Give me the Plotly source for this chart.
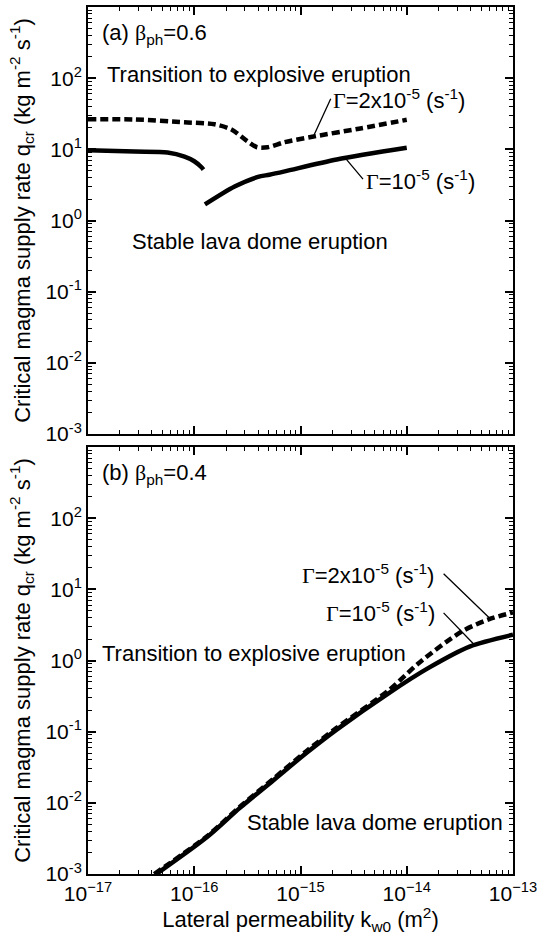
import plotly.graph_objects as go

# ---------------- data ----------------
# Panel (a) beta_ph = 0.6
ka_g2 = [1.0e-17, 2.75e-17, 8.1e-17, 1.55e-16, 2.24e-16, 3.16e-16, 3.9e-16, 4.9e-16,
         7.1e-16, 1.29e-15, 3.55e-15, 1.0e-14]
qa_g2 = [26.5, 26.3, 24.0, 22.5, 19.0, 13.0, 10.7, 10.7, 12.6, 15.0, 19.5, 26.0]

ka_g1_low = [1.0e-17, 2.75e-17, 5.6e-17, 8.1e-17, 1.0e-16, 1.17e-16, 1.22e-16]
qa_g1_low = [9.7, 9.3, 9.0, 7.9, 6.8, 5.6, 5.2]

ka_g1_high = [1.26e-16, 2.4e-16, 3.98e-16, 5.1e-16, 7.1e-16, 2.19e-15, 1.0e-14]
qa_g1_high = [1.68, 3.0, 4.1, 4.4, 4.9, 7.2, 10.5]

# Panel (b) beta_ph = 0.4
kb_g2 = [4.2e-17, 1.32e-16, 2.69e-16, 5.5e-16, 1.15e-15, 2.19e-15, 6.9e-15,
         1.32e-14, 3.3e-14, 5.9e-14, 1.0e-13]
qb_g2 = [1.0e-3, 3.4e-3, 8.8e-3, 0.0215, 0.054, 0.113, 0.39, 0.94, 2.56, 3.78, 4.74]

kb_g1 = [4.4e-17, 1.32e-16, 2.69e-16, 5.5e-16, 1.15e-15, 2.19e-15, 6.9e-15,
         1.62e-14, 3.9e-14, 1.0e-13]
qb_g1 = [1.0e-3, 3.3e-3, 8.5e-3, 0.0205, 0.051, 0.107, 0.355, 0.795, 1.57, 2.3]

# tick labels
x_tickvals = [1e-17, 1e-16, 1e-15, 1e-14, 1e-13]
x_ticktext = ["10<sup>−17</sup>", "10<sup>−16</sup>", "10<sup>−15</sup>",
              "10<sup>−14</sup>", "10<sup>−13</sup>"]
y_tickvals = [1e-3, 1e-2, 1e-1, 1e0, 1e1, 1e2]
y_ticktext = ["10<sup>-3</sup>", "10<sup>-2</sup>", "10<sup>-1</sup>",
              "10<sup>0</sup>", "10<sup>1</sup>", "10<sup>2</sup>"]

x_range_log = [-17, -13]
y_range_log = [-3, 3]

FONT = "Liberation Sans, Arial, sans-serif"
SERIF = "Liberation Serif, Times New Roman, serif"
LW = 4.5
DASH = "8px,4px"

fig = go.Figure()

def curve(x, y, xa, ya, dash=None):
    fig.add_trace(go.Scatter(x=x, y=y, mode="lines", xaxis=xa, yaxis=ya,
                             line=dict(color="black", width=LW, dash=dash,
                                       shape="spline", smoothing=0.8),
                             showlegend=False, hoverinfo="skip"))

# top panel (a)
curve(ka_g2, qa_g2, "x2", "y2", DASH)
curve(ka_g1_low, qa_g1_low, "x2", "y2")
curve(ka_g1_high, qa_g1_high, "x2", "y2")
# bottom panel (b)
curve(kb_g1, qb_g1, "x", "y")
curve(kb_g2, qb_g2, "x", "y", DASH)

ytitle = "Critical magma supply rate q<sub>cr</sub> (kg m<sup>-2</sup> s<sup>-1</sup>)"

common_axis = dict(
    type="log", showline=True, linewidth=2, linecolor="black", mirror="allticks",
    ticks="inside", ticklen=8, tickwidth=1.5, tickcolor="black",
    showgrid=False, zeroline=False, automargin=False,
    tickfont=dict(family=FONT, size=21, color="black"),
    minor=dict(ticks="inside", ticklen=4, tickwidth=1.2, tickcolor="black",
               showgrid=False, dtick="D1"),
)

xaxis_common = dict(common_axis, tickmode="array", tickvals=x_tickvals, ticktext=x_ticktext,
                    range=x_range_log)
yaxis_common = dict(common_axis, tickmode="array", tickvals=y_tickvals, ticktext=y_ticktext,
                    range=y_range_log)

fig.update_layout(
    width=550, height=935,
    margin=dict(l=88, r=37, t=7, b=61),
    paper_bgcolor="white", plot_bgcolor="white",
    font=dict(family=FONT, size=22, color="black"),
    xaxis=dict(xaxis_common, domain=[0, 1], anchor="y",
               title=dict(text="Lateral permeability k<sub>w0</sub> (m<sup>2</sup>)",
                          font=dict(size=22), standoff=20)),
    yaxis=dict(yaxis_common, domain=[0, 0.4925], anchor="x",
               title=dict(text=ytitle, font=dict(size=22), standoff=9)),
    xaxis2=dict(xaxis_common, domain=[0, 1], anchor="y2",
                matches="x", showticklabels=False),
    yaxis2=dict(yaxis_common, domain=[0.5075, 1], anchor="x2",
                title=dict(text=ytitle, font=dict(size=22), standoff=9)),
)

G = '<span style="font-family:%s">&#915;</span>' % SERIF
B = '<span style="font-family:%s">&#946;</span>' % SERIF

def label(text, lx, ly, xa, ya):
    fig.add_annotation(text=text, x=lx, y=ly, xref=xa, yref=ya, showarrow=False,
                       xanchor="left", yanchor="middle",
                       font=dict(family=FONT, size=22, color="black"))

def leader(x0, y0, x1, y1, xa, ya):
    fig.add_annotation(text="", x=x1, y=y1, ax=x0, ay=y0, xref=xa, yref=ya,
                       axref=xa, ayref=ya, showarrow=True, arrowhead=0,
                       arrowwidth=1.3, arrowcolor="black", standoff=0, startstandoff=0)

# top labels
label("(a) " + B + "<sub>ph</sub>=0.6", -16.887, 2.62, "x2", "y2")
label("Transition to explosive eruption", -16.84, 2.056, "x2", "y2")
label(G + "=2x10<sup>-5</sup> (s<sup>-1</sup>)", -14.709, 1.704, "x2", "y2")
label(G + "=10<sup>-5</sup> (s<sup>-1</sup>)", -14.399, 0.563, "x2", "y2")
label("Stable lava dome eruption", -16.606, -0.296, "x2", "y2")
leader(-14.709, 1.732, -14.878, 1.183, "x2", "y2")
leader(-14.40, 0.56, -14.568, 0.859, "x2", "y2")

# bottom labels
label("(b) " + B + "<sub>ph</sub>=0.4", -16.887, 2.62, "x", "y")
label("Transition to explosive eruption", -16.887, 0.099, "x", "y")
label(G + "=2x10<sup>-5</sup> (s<sup>-1</sup>)", -15.009, 1.211, "x", "y")
label(G + "=10<sup>-5</sup> (s<sup>-1</sup>)", -14.775, 0.676, "x", "y")
label("Stable lava dome eruption", -15.526, -2.282, "x", "y")
leader(-13.667, 1.239, -13.207, 0.577, "x", "y")
leader(-13.667, 0.690, -13.366, 0.225, "x", "y")

fig.write_html("out.html")
